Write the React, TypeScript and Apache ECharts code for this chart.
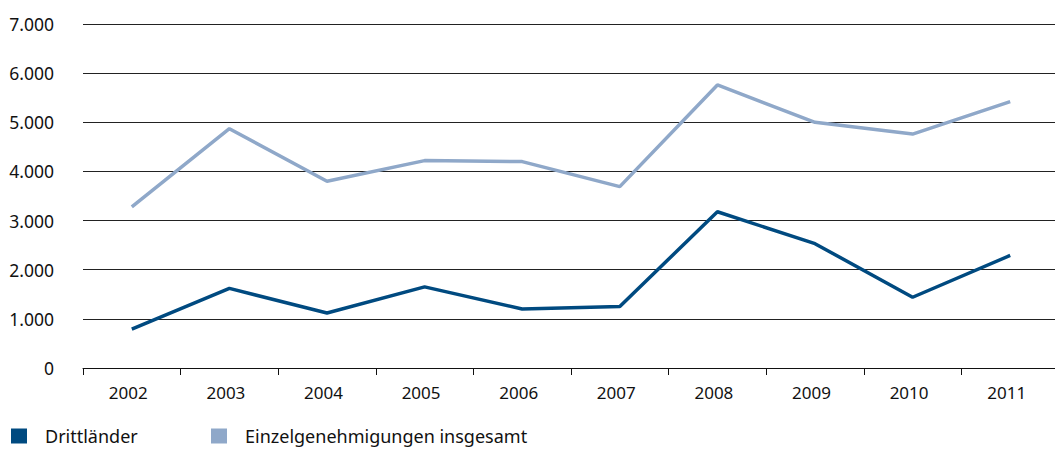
import React, { useEffect, useRef } from "react";
import * as echarts from "echarts";

const years = ["2002", "2003", "2004", "2005", "2006", "2007", "2008", "2009", "2010", "2011"];
const drittlaender = [790, 1620, 1120, 1650, 1200, 1250, 3180, 2530, 1440, 2290];
const insgesamt = [3280, 4870, 3800, 4220, 4200, 3690, 5760, 5000, 4760, 5420];
const seriesNames = ["Drittländer", "Einzelgenehmigungen insgesamt"];
const colors = ["#004a80", "#8fa8c9"];

const FONT = "Noto Sans";
const TEXT = "#111";

function fmt(v: number): string {
  return String(v).replace(/\B(?=(\d{3})+(?!\d))/g, ".");
}

export default function App() {
  const ref = useRef<HTMLDivElement>(null);
  useEffect(() => {
    if (!ref.current) return;
    const chart = echarts.init(ref.current, null, { renderer: "svg" });
    const legendCommon = {
      top: 427,
      icon: "rect",
      itemWidth: 16,
      itemHeight: 15,
      itemGap: 0,
      padding: 0,
      textStyle: { fontFamily: FONT, fontSize: 18, lineHeight: 15, color: TEXT, padding: [0, 0, 0, 13] },
    };
    chart.setOption({
      animation: false,
      textStyle: { fontFamily: FONT },
      grid: { left: 83, right: 3, top: 24, bottom: 81, containLabel: false },
      legend: [
        { ...legendCommon, data: [seriesNames[0]], left: 11 },
        { ...legendCommon, data: [seriesNames[1]], left: 211 },
      ],
      xAxis: {
        type: "category",
        data: years,
        boundaryGap: true,
        axisLine: { show: true, lineStyle: { color: "#111", width: 1 } },
        axisTick: { show: true, inside: false, length: 7, lineStyle: { color: "#111", width: 1 } },
        axisLabel: { fontFamily: FONT, fontSize: 17, color: TEXT, margin: 16, padding: [0, 7, 0, 0] },
        splitLine: { show: false },
      },
      yAxis: {
        type: "value",
        min: 0,
        max: 7000,
        interval: 1000,
        axisLine: { show: false },
        axisTick: { show: false },
        axisLabel: { fontFamily: FONT, fontSize: 17.5, color: TEXT, margin: 29, formatter: (v: number) => fmt(v) },
        splitLine: { show: true, lineStyle: { color: "#222", width: 1 } },
      },
      series: [
        {
          name: seriesNames[0],
          type: "line",
          data: drittlaender,
          symbol: "none",
          lineStyle: { color: colors[0], width: 3.5 },
          itemStyle: { color: colors[0] },
          z: 3,
        },
        {
          name: seriesNames[1],
          type: "line",
          data: insgesamt,
          symbol: "none",
          lineStyle: { color: colors[1], width: 3.5 },
          itemStyle: { color: colors[1] },
          z: 2,
        },
      ],
    });
    return () => chart.dispose();
  }, []);
  return (
    <div style={{ position: "fixed", left: 0, top: 0, width: 1055, height: 449, overflow: "hidden", background: "#fff" }}>
      <div ref={ref} style={{ width: 1062, height: 449 }} />
    </div>
  );
}
